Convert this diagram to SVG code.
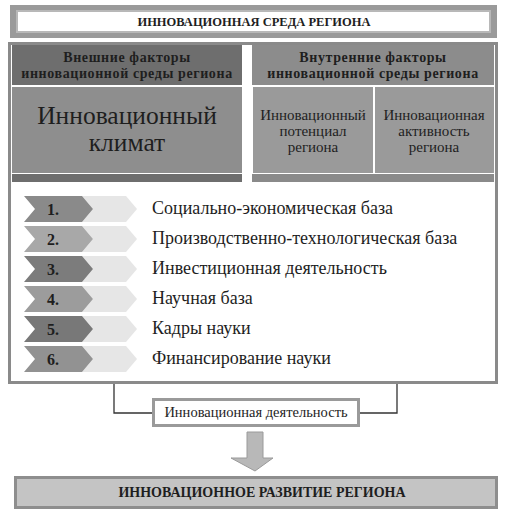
<svg xmlns="http://www.w3.org/2000/svg" width="507" height="522" viewBox="0 0 507 522">
<style>
.serif{font-family:"Liberation Serif","Times New Roman",serif;fill:#1e1e1e}
.b{font-weight:bold}
.num{font-family:"Liberation Serif",serif;font-weight:bold;font-size:16px;fill:#1e1e1e;text-anchor:middle}
.item{font-family:"Liberation Serif",serif;font-size:18px;fill:#1e1e1e}
.light{fill:#e6e6e6}
</style>
<defs>
<path id="chevD" d="M0,0 H58 L69,13 L58,26 H0 L11,13 Z"/>
<path id="chevL" d="M58,0 H102 L113,13 L102,26 H58 L69,13 Z"/>
</defs>
<rect width="507" height="522" fill="#fff"/>

<g id="title">
<rect x="10" y="5" width="487" height="33" fill="#9a9a9a"/>
<rect x="17" y="11" width="473" height="21" fill="#fff" stroke="#b8b8b8" stroke-width="2"/>
<text class="serif b" x="254" y="26" font-size="12.5" text-anchor="middle">ИННОВАЦИОННАЯ СРЕДА РЕГИОНА</text>
</g>

<g id="main-frame">
<rect x="9.5" y="43.5" width="487" height="339" fill="#fff" stroke="#8a8a8a" stroke-width="3"/>
</g>

<g id="external">
<rect x="12" y="45" width="230" height="40" fill="#6e6e6e"/>
<text class="serif b" x="127" y="62" font-size="14" text-anchor="middle" letter-spacing="0.6">Внешние факторы</text>
<text class="serif b" x="127" y="78" font-size="14" text-anchor="middle" letter-spacing="0.6">инновационной среды региона</text>
</g>

<g id="climate">
<rect x="12" y="87" width="230" height="86" fill="#8e8e8e"/>
<rect x="12" y="174" width="230" height="8" fill="#6e6e6e"/>
<text class="serif" x="127" y="124" font-size="25.5" text-anchor="middle">Инновационный</text>
<text class="serif" x="127" y="151" font-size="25.5" text-anchor="middle">климат</text>
</g>

<g id="internal">
<rect x="252" y="45" width="242" height="40" fill="#8c8c8c"/>
<text class="serif b" x="373" y="62" font-size="14" text-anchor="middle" letter-spacing="0.6">Внутренние факторы</text>
<text class="serif b" x="373" y="78" font-size="14" text-anchor="middle" letter-spacing="0.6">инновационной среды региона</text>
<rect x="252" y="174" width="242" height="8" fill="#8a8a8a"/>
</g>

<g id="potential">
<rect x="253" y="87" width="120" height="86" fill="#9a9a9a"/>
<text class="serif" x="313" y="120" font-size="15" text-anchor="middle">Инновационный</text>
<text class="serif" x="313" y="136" font-size="15" text-anchor="middle">потенциал</text>
<text class="serif" x="313" y="152" font-size="15" text-anchor="middle">региона</text>
</g>

<g id="activity">
<rect x="375" y="87" width="119" height="86" fill="#9a9a9a"/>
<text class="serif" x="434" y="120" font-size="15" text-anchor="middle">Инновационная</text>
<text class="serif" x="434" y="136" font-size="15" text-anchor="middle">активность</text>
<text class="serif" x="434" y="152" font-size="15" text-anchor="middle">региона</text>
</g>

<g id="item1" transform="translate(24,196)">
<use href="#chevL" class="light"/><use href="#chevD" fill="#8a8a8a"/>
<text class="num" x="29" y="19">1.</text>
<text class="item" x="128" y="18">Социально-экономическая база</text>
</g>
<g id="item2" transform="translate(24,226)">
<use href="#chevL" class="light"/><use href="#chevD" fill="#a8a8a8"/>
<text class="num" x="29" y="19">2.</text>
<text class="item" x="128" y="18">Производственно-технологическая база</text>
</g>
<g id="item3" transform="translate(24,256)">
<use href="#chevL" class="light"/><use href="#chevD" fill="#7c7c7c"/>
<text class="num" x="29" y="19">3.</text>
<text class="item" x="128" y="18">Инвестиционная деятельность</text>
</g>
<g id="item4" transform="translate(24,286)">
<use href="#chevL" class="light"/><use href="#chevD" fill="#9c9c9c"/>
<text class="num" x="29" y="19">4.</text>
<text class="item" x="128" y="18">Научная база</text>
</g>
<g id="item5" transform="translate(24,316)">
<use href="#chevL" class="light"/><use href="#chevD" fill="#787878"/>
<text class="num" x="29" y="19">5.</text>
<text class="item" x="128" y="18">Кадры науки</text>
</g>
<g id="item6" transform="translate(24,346)">
<use href="#chevL" class="light"/><use href="#chevD" fill="#929292"/>
<text class="num" x="29" y="19">6.</text>
<text class="item" x="128" y="18">Финансирование науки</text>
</g>

<g id="connectors">
<path d="M114,384 V413 H152" fill="none" stroke="#333" stroke-width="1.3"/>
<path d="M397,384 V413 H359" fill="none" stroke="#333" stroke-width="1.3"/>
<path d="M247,432 H263 V458 H273 L255,471 L231,458 H247 Z" fill="#b8b8b8" stroke="#9a9a9a" stroke-width="1"/>
</g>

<g id="activity-label">
<rect x="153.5" y="399.5" width="205" height="26" fill="#fff" stroke="#9a9a9a" stroke-width="3"/>
<text class="serif" x="256" y="417" font-size="14.5" text-anchor="middle">Инновационная деятельность</text>
</g>

<g id="development">
<rect x="15.5" y="477.5" width="481" height="30" fill="#c4c4c4" stroke="#8e8e8e" stroke-width="3"/>
<text class="serif b" x="262" y="497" font-size="14" text-anchor="middle">ИННОВАЦИОННОЕ РАЗВИТИЕ РЕГИОНА</text>
</g>
</svg>
